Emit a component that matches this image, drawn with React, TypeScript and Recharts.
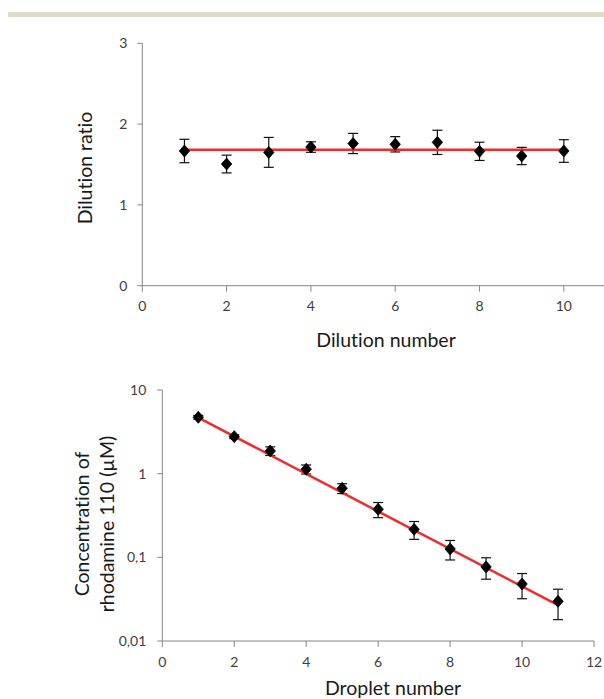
import React from 'react';
import {
  ComposedChart,
  Scatter,
  ErrorBar,
  XAxis,
  YAxis,
  Label,
} from 'recharts';

// top panel: dilution ratio per dilution step
const dilutionNumbers = [1, 2, 3, 4, 5, 6, 7, 8, 9, 10];
const dilutionRatio = [1.667, 1.506, 1.65, 1.716, 1.76, 1.75, 1.774, 1.663, 1.605, 1.667];
const dilutionErr = [0.145, 0.11, 0.185, 0.065, 0.125, 0.095, 0.15, 0.113, 0.107, 0.14];
const meanRatioX = [1, 10];
const meanRatioY = [1.684, 1.684];
const topXTicks = [0, 2, 4, 6, 8, 10];
const topYTicks = [0, 1, 2, 3];

// bottom panel: rhodamine 110 concentration per droplet (log scale)
const dropletNumbers = [1, 2, 3, 4, 5, 6, 7, 8, 9, 10, 11];
const concentration = [4.72, 2.77, 1.87, 1.13, 0.668, 0.375, 0.216, 0.126, 0.0768, 0.048, 0.0298];
const concErr = [0.25, 0.15, 0.22, 0.14, 0.09, 0.077, 0.052, 0.033, 0.022, 0.016, 0.0118];
const fitX = [1, 11];
const fitY = [4.67, 0.0268];
const bottomXTicks = [0, 2, 4, 6, 8, 10, 12];
const bottomYTicks = [0.01, 0.1, 1, 10];
const bottomYLabels = ['0,01', '0,1', '1', '10'];

const FONT = 'Lato, "Open Sans", sans-serif';
const AXIS = '#868686';
const TICK = { fontSize: 14, fill: '#404040', fontFamily: FONT };
const RED = '#ee2c2c';

const topData = dilutionNumbers.map((x, i) => ({ x, y: dilutionRatio[i], err: dilutionErr[i] }));
const topFit = meanRatioX.map((x, i) => ({ x, y: meanRatioY[i] }));
const bottomData = dropletNumbers.map((x, i) => ({ x, y: concentration[i], err: concErr[i] }));
const bottomFit = fitX.map((x, i) => ({ x, y: fitY[i] }));

const Diamond = (props: any) => {
  const { cx, cy } = props;
  if (cx == null || cy == null) return <g />;
  return (
    <path
      d={`M${cx},${cy - 6} L${cx + 5.2},${cy} L${cx},${cy + 6} L${cx - 5.2},${cy} Z`}
      fill="#000"
      stroke="#000"
      strokeWidth={0.8}
      strokeLinejoin="round"
    />
  );
};

const NoDot = () => <g />;

// axis titles, positioned in the chart's own svg coordinates
const axisTitle = (x: number, y: number, lines: string[], rotate: boolean) => () => (
  <text
    x={x}
    y={y}
    textAnchor="middle"
    fontFamily={FONT}
    fontSize={19.5}
    fill="#1a1a1a"
    style={{ fontVariantLigatures: 'none' }}
    transform={rotate ? `rotate(-90 ${x} ${y})` : undefined}
  >
    {lines.map((l, i) => (
      <tspan key={l} x={x} dy={i === 0 ? (lines.length === 1 ? 7 : -5) : 25}>
        {l}
      </tspan>
    ))}
  </text>
);

const App: React.FC = () => {
  return (
    <div style={{ position: 'absolute', left: 0, top: 0, width: 604, height: 699, overflow: 'hidden', background: '#fff' }}>
      <div style={{ position: 'absolute', left: 8, top: 12, width: 596, height: 5, background: '#dfdbc9' }} />

      <div style={{ position: 'absolute', left: 0, top: 0 }}>
        <ComposedChart width={620} height={360} margin={{ top: 43.3, right: 14, bottom: 44.3, left: 0 }}>
          <XAxis
            type="number"
            dataKey="x"
            domain={[0, 11]}
            ticks={topXTicks}
            allowDataOverflow
            stroke={AXIS}
            tickSize={6}
            tickMargin={9}
            tick={TICK}
            height={30}
          >
            <Label content={axisTitle(386, 340, ['Dilution number'], false)} />
          </XAxis>
          <YAxis
            type="number"
            dataKey="y"
            domain={[0, 3]}
            ticks={topYTicks}
            allowDataOverflow
            stroke={AXIS}
            tickSize={5}
            tickMargin={10}
            tick={TICK}
            width={142.3}
          >
            <Label content={axisTitle(85, 168, ['Dilution ratio'], true)} />
          </YAxis>
          <Scatter
            data={topFit}
            line={{ stroke: RED, strokeWidth: 2.5 }}
            shape={NoDot}
            isAnimationActive={false}
          />
          <Scatter data={topData} shape={Diamond} isAnimationActive={false}>
            <ErrorBar dataKey="err" direction="y" width={5} stroke="#111" strokeWidth={1.2} isAnimationActive={false} />
          </Scatter>
        </ComposedChart>
      </div>

      <div style={{ position: 'absolute', left: 0, top: 350 }}>
        <ComposedChart width={604} height={349} margin={{ top: 40, right: 10, bottom: 28, left: 0 }}>
          <XAxis
            type="number"
            dataKey="x"
            domain={[0, 12]}
            ticks={bottomXTicks}
            allowDataOverflow
            stroke={AXIS}
            tickSize={6}
            tickMargin={10}
            tick={TICK}
            height={30}
          >
            <Label content={axisTitle(393, 338, ['Droplet number'], false)} />
          </XAxis>
          <YAxis
            type="number"
            dataKey="y"
            scale="log"
            domain={[0.01, 10]}
            ticks={bottomYTicks}
            tickFormatter={(v: number) => bottomYLabels[bottomYTicks.indexOf(v)] ?? String(v)}
            allowDataOverflow
            stroke={AXIS}
            tickSize={5}
            tickMargin={11}
            tick={TICK}
            width={162.3}
          >
            <Label content={axisTitle(94, 174, ['Concentration of', 'rhodamine 110 (µM)'], true)} />
          </YAxis>
          <Scatter
            data={bottomFit}
            line={{ stroke: RED, strokeWidth: 2.5 }}
            shape={NoDot}
            isAnimationActive={false}
          />
          <Scatter data={bottomData} shape={Diamond} isAnimationActive={false}>
            <ErrorBar dataKey="err" direction="y" width={5} stroke="#111" strokeWidth={1.2} isAnimationActive={false} />
          </Scatter>
        </ComposedChart>
      </div>
    </div>
  );
};

export default App;
